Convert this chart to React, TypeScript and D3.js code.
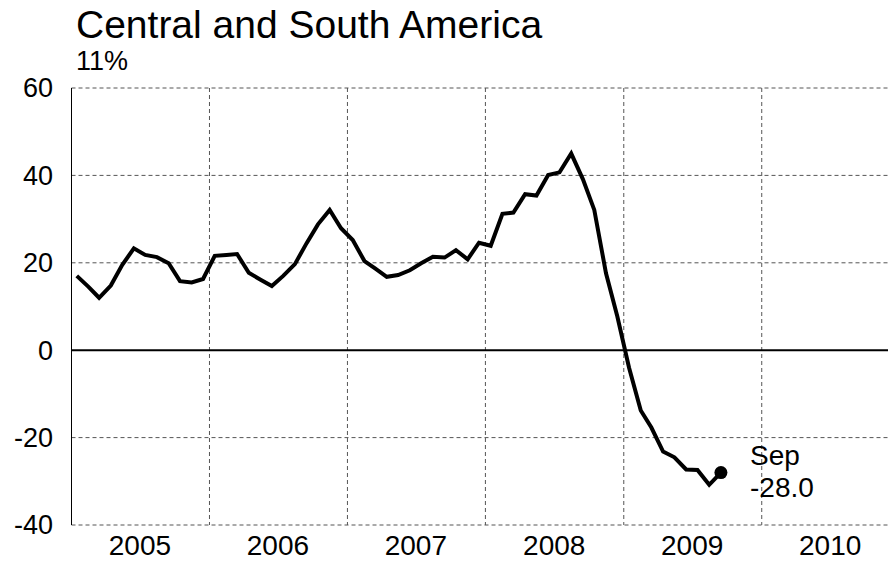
import React, { useEffect, useRef } from "react";
import * as d3 from "d3";

// monthly values, Jan 2005 .. Sep 2009
const startYear = 2005;
const values = [
  17.0, 14.5, 12.0, 14.8, 19.5, 23.3, 21.8, 21.3, 19.9, 15.8, 15.5, 16.3,
  21.6, 21.8, 22.0, 17.7, 16.2, 14.7, 17.0, 19.7, 24.5, 28.8, 32.1, 27.9,
  25.2, 20.4, 18.7, 16.8, 17.2, 18.3, 19.9, 21.4, 21.2, 22.9, 20.8, 24.6,
  23.9, 31.2, 31.5, 35.7, 35.4, 40.1, 40.7, 45.0, 39.1, 32.1, 17.6, 7.7,
  -4.0, -13.8, -17.7, -23.2, -24.5, -27.3, -27.4, -30.8, -28.0,
];
const years = [2005, 2006, 2007, 2008, 2009, 2010];
const yTicks = [-40, -20, 0, 20, 40, 60];
const title = "Central and South America";
const subtitle = "11%";
const lastLabel = ["Sep", "-28.0"];

export default function App() {
  const ref = useRef<SVGSVGElement>(null);

  useEffect(() => {
    const svg = d3.select(ref.current);
    svg.selectAll("*").remove();

    const font = "'Liberation Sans', Arial, sans-serif";
    const left = 71.5;
    const right = 888;
    const top = 88;
    const bottom = 525;

    const data = values.map((v, i) => ({
      date: new Date(startYear, i, 15),
      value: v,
    }));

    const x = d3
      .scaleTime()
      .domain([new Date(2005, 0, 1), new Date(2010, 11, 1)])
      .range([left, right]);
    const y = d3.scaleLinear().domain([-40, 60]).range([bottom, top]);

    // horizontal grid
    svg
      .append("g")
      .selectAll("line")
      .data(yTicks.filter((t) => t !== 0))
      .enter()
      .append("line")
      .attr("x1", left)
      .attr("x2", right)
      .attr("y1", (d) => y(d))
      .attr("y2", (d) => y(d))
      .attr("stroke", "#555")
      .attr("stroke-width", 1)
      .attr("stroke-dasharray", "4,3");

    // vertical grid at year boundaries
    svg
      .append("g")
      .selectAll("line")
      .data(years.slice(1))
      .enter()
      .append("line")
      .attr("x1", (d) => x(new Date(d, 0, 1)))
      .attr("x2", (d) => x(new Date(d, 0, 1)))
      .attr("y1", top)
      .attr("y2", bottom)
      .attr("stroke", "#555")
      .attr("stroke-width", 1)
      .attr("stroke-dasharray", "4,3");

    // left axis line
    svg
      .append("line")
      .attr("x1", left)
      .attr("x2", left)
      .attr("y1", top)
      .attr("y2", bottom)
      .attr("stroke", "#000")
      .attr("stroke-width", 1);

    // zero line
    svg
      .append("line")
      .attr("x1", left)
      .attr("x2", right)
      .attr("y1", y(0))
      .attr("y2", y(0))
      .attr("stroke", "#000")
      .attr("stroke-width", 2);

    // y tick labels
    svg
      .append("g")
      .selectAll("text")
      .data(yTicks)
      .enter()
      .append("text")
      .attr("x", 53)
      .attr("y", (d) => y(d))
      .attr("dy", "0.35em")
      .attr("text-anchor", "end")
      .style("font-family", font)
      .style("font-size", "27px")
      .text((d) => d);

    // x labels mid-year
    svg
      .append("g")
      .selectAll("text")
      .data(years)
      .enter()
      .append("text")
      .attr("x", (d) => x(new Date(d, 6, 1)))
      .attr("y", 555)
      .attr("text-anchor", "middle")
      .style("font-family", font)
      .style("font-size", "28px")
      .text((d) => d);

    // the series
    const line = d3
      .line<{ date: Date; value: number }>()
      .x((d) => x(d.date))
      .y((d) => y(d.value));

    svg
      .append("path")
      .datum(data)
      .attr("d", line)
      .attr("fill", "none")
      .attr("stroke", "#000")
      .attr("stroke-width", 4)
      .attr("stroke-linejoin", "miter");

    const last = data[data.length - 1];
    svg
      .append("circle")
      .attr("cx", x(last.date))
      .attr("cy", y(last.value))
      .attr("r", 6.5)
      .attr("fill", "#000");

    const lbl = svg
      .append("text")
      .attr("x", 750)
      .attr("y", 465)
      .style("font-family", font)
      .style("font-size", "28px");
    lbl.append("tspan").attr("x", 750).text(lastLabel[0]);
    lbl.append("tspan").attr("x", 750).attr("dy", 32).text(lastLabel[1]);

    // titles
    svg
      .append("text")
      .attr("x", 76)
      .attr("y", 38)
      .style("font-family", font)
      .style("font-size", "39px")
      .text(title);
    svg
      .append("text")
      .attr("x", 76)
      .attr("y", 70)
      .style("font-family", font)
      .style("font-size", "27px")
      .text(subtitle);
  });

  return (
    <svg
      ref={ref}
      width={890}
      height={561}
      style={{ position: "absolute", left: 0, top: 0, background: "#fff" }}
    />
  );
}
